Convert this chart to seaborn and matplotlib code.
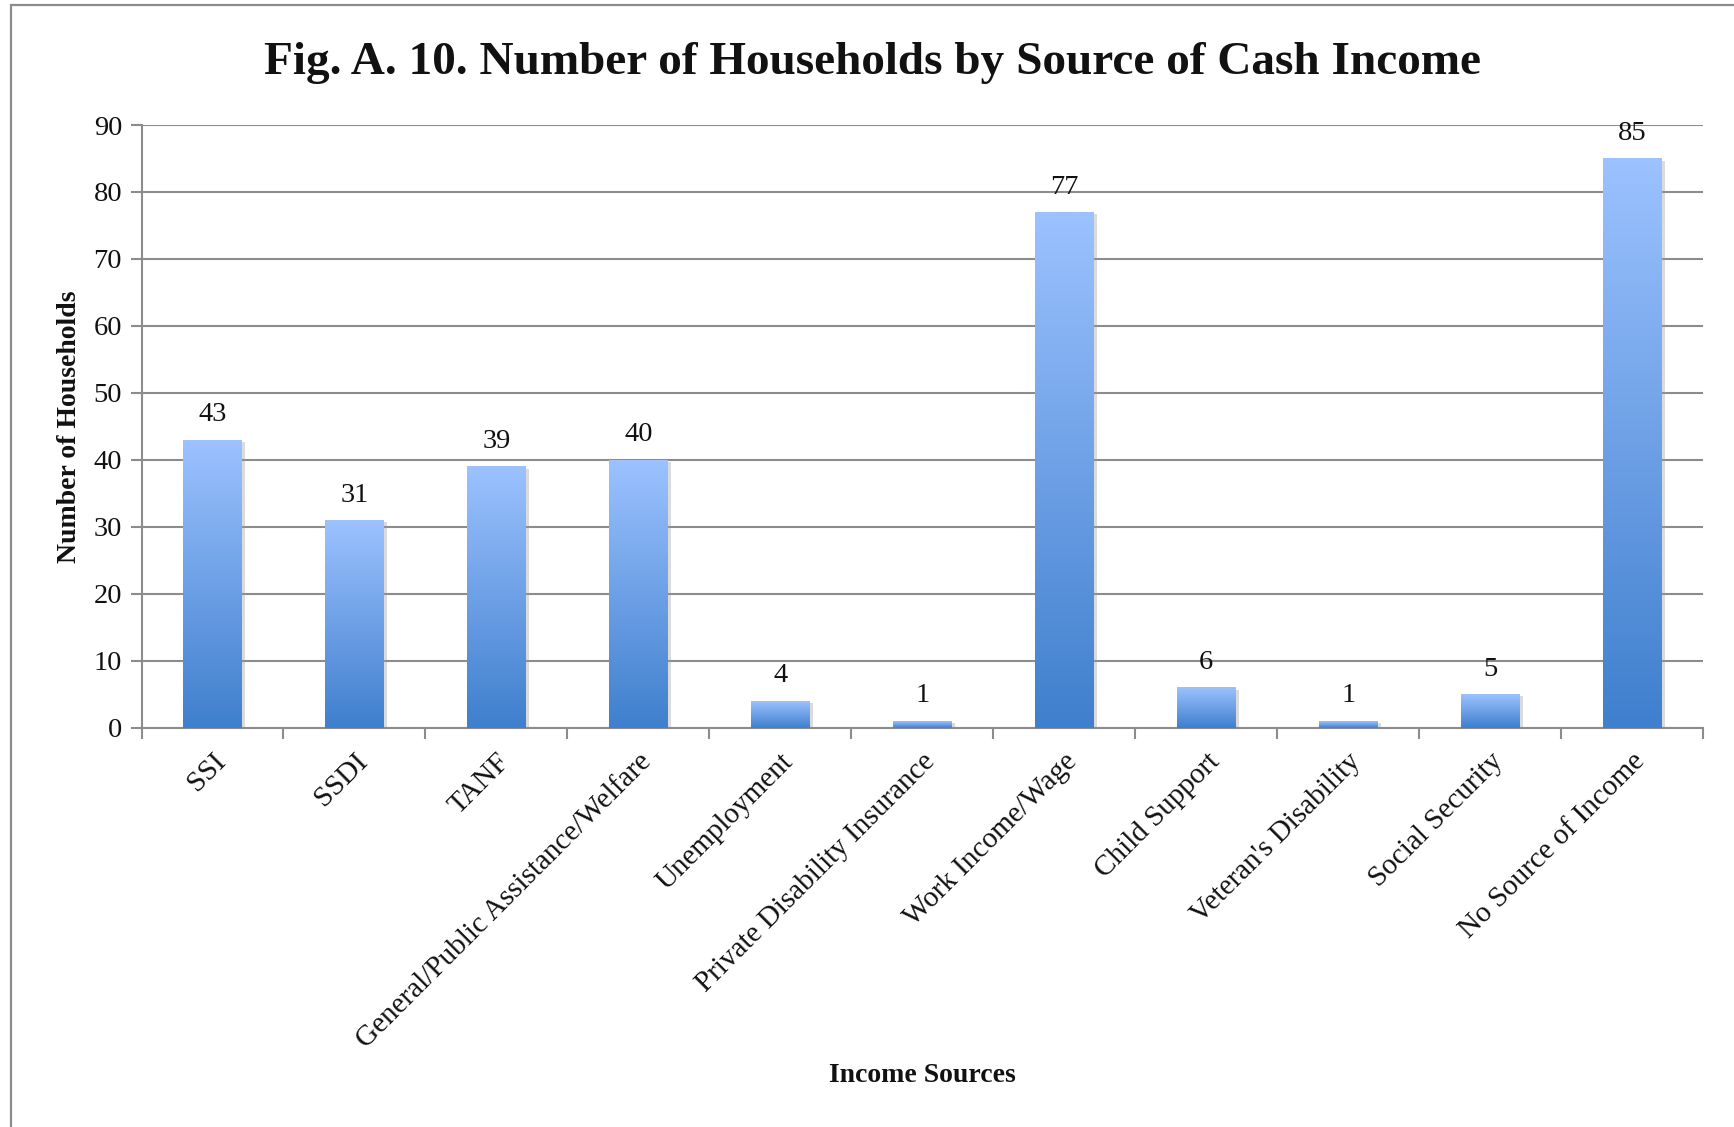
import numpy as np
import pandas as pd
import matplotlib
matplotlib.use("Agg")
import matplotlib.pyplot as plt
import matplotlib.patheffects as pe
from matplotlib.colors import LinearSegmentedColormap
from matplotlib.patches import Rectangle
import seaborn as sns

# Households reporting each source of cash income
sources = [
    "SSI",
    "SSDI",
    "TANF",
    "General/Public Assistance/Welfare",
    "Unemployment",
    "Private Disability Insurance",
    "Work Income/Wage",
    "Child Support",
    "Veteran's Disability",
    "Social Security",
    "No Source of Income",
]
households = [43, 31, 39, 40, 4, 1, 77, 6, 1, 5, 85]
y_ticks = [0, 10, 20, 30, 40, 50, 60, 70, 80, 90]

title = "Fig. A. 10. Number of Households by Source of Cash Income"
x_title = "Income Sources"
y_title = "Number of Households"

sns.set_theme(style="white")
plt.rcParams["font.family"] = ["Liberation Serif", "DejaVu Serif"]

GRID = "#8c8c8c"
fig = plt.figure(figsize=(17.34, 11.27), dpi=100)
fig.patch.set_facecolor("white")

# outer chart frame (left and top edges visible)
fig.add_artist(Rectangle((11 / 1734, -0.2), 1.5, 0.2 + 1 - 5 / 1127,
                         transform=fig.transFigure, fill=False,
                         edgecolor=GRID, linewidth=1.6, zorder=0))

ax = fig.add_axes([141.5 / 1734, 1 - 727.6 / 1127,
                   (1703 - 141.5) / 1734, (727.6 - 125) / 1127])

df = pd.DataFrame({"Source": sources, "Households": households})
sns.barplot(data=df, x="Source", y="Households", color="#5e93dc",
            saturation=1, width=0.41, ax=ax, zorder=2)

ax.set_xlim(-0.5, len(sources) - 0.5)
ax.set_ylim(0, 90)

# vertical gradient fill on each bar, light at top, deep blue at base
cmap = LinearSegmentedColormap.from_list("barfill", ["#3f7fcd", "#9cc2ff"])
grad = np.linspace(0, 1, 256).reshape(-1, 1)
container = ax.containers[0]
for patch in container.patches:
    patch.set_edgecolor("none")
    patch.set_path_effects([
        pe.SimplePatchShadow(offset=(2.5, -1.5), shadow_rgbFace="#9a9a9a", alpha=0.35),
        pe.Normal(),
    ])
    x0, y0 = patch.get_x(), patch.get_y()
    w, h = patch.get_width(), patch.get_height()
    im = ax.imshow(grad, cmap=cmap, origin="lower", aspect="auto",
                   extent=[x0, x0 + w, y0, y0 + h], zorder=3,
                   interpolation="bilinear")
    im.set_clip_path(patch)
ax.set_xlim(-0.5, len(sources) - 0.5)
ax.set_ylim(0, 90)

ax.bar_label(container, labels=[str(v) for v in households],
             padding=9, fontsize=20.5, color="#111111")

# gridlines and axes
ax.set_yticks(y_ticks)
ax.yaxis.grid(True, color=GRID, linewidth=1.5, zorder=0)
ax.set_axisbelow(True)
for side in ["top", "right"]:
    ax.spines[side].set_visible(False)
for side in ["left", "bottom"]:
    ax.spines[side].set_color(GRID)
    ax.spines[side].set_linewidth(1.5)

ax.tick_params(axis="y", which="major", length=8, width=1.5, color=GRID,
               labelsize=20.5, pad=6, left=True)
ax.set_xticks(np.arange(-0.5, len(sources), 1), minor=True)
ax.tick_params(axis="x", which="minor", length=8, width=1.5, color=GRID,
               direction="out", bottom=True)
ax.tick_params(axis="x", which="major", length=0, pad=15)
ax.set_xticklabels(sources, rotation=45, ha="right", rotation_mode="anchor",
                   fontsize=21, color="#111111")
for lab in ax.get_yticklabels():
    lab.set_color("#111111")

ax.set_ylabel(y_title, fontsize=20, fontweight="bold", color="#111111")
ax.yaxis.set_label_coords(-0.038, 0.5)
ax.set_xlabel(x_title, fontsize=20, fontweight="bold", color="#111111")
ax.xaxis.set_label_coords(0.5, -0.578)
ax.xaxis.label.set_va("center")

fig.text(0.503, 1 - 63 / 1127, title, ha="center", va="center",
         fontsize=34, fontweight="bold", color="#111111")

fig.savefig("out.png", dpi=100, facecolor="white")
